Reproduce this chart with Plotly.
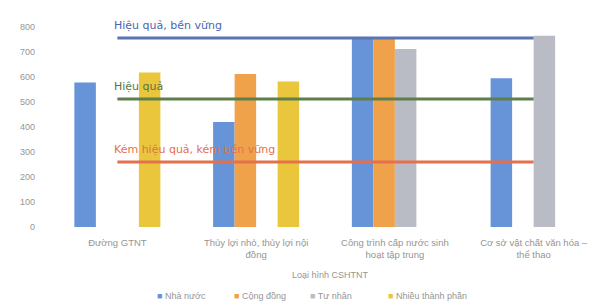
import plotly.graph_objects as go

categories = ["Đường GTNT", "Thủy lợi nhỏ, thủy lợi nội<br>đồng",
              "Công trình cấp nước sinh<br>hoạt tập trung", "Cơ sở vật chất văn hóa –<br>thể thao"]
series_names = ["Nhà nước", "Cộng đồng", "Tư nhân", "Nhiều thành phần"]
nha_nuoc = [578, 420, 760, 595]
cong_dong = [None, 612, 752, None]
tu_nhan = [None, None, 712, 765]
nhieu_thanh_phan = [618, 582, None, None]
y_ticks = [0, 100, 200, 300, 400, 500, 600, 700, 800]

level_names = ["Hiệu quả, bền vững", "Hiệu quả", "Kém hiệu quả, kém bền vững"]
level_values = [756, 512, 260]

bar_colors = ["#6793d8", "#f0a24a", "#b9bcc4", "#e9c63c"]
line_colors = ["#5b74b4", "#5e7e4c", "#e4704e"]
text_colors = ["#4a66b0", "#5a7444", "#e4704e"]
legend_x = [155, 232, 308, 386]

# page body adds an 8px offset; work in screen pixels and convert
OFF = 8
W, H = 605 - OFF, 306 - OFF
L, R, T, B = 48 - OFF, 2, 27 - OFF, 79
pw, ph = W - L - R, H - T - B

def px_x(sx):
    return (sx - OFF - L) / pw

def px_y(sy):
    return (H - B - (sy - OFF)) / ph

fig = go.Figure()
for name, vals, col in zip(series_names, [nha_nuoc, cong_dong, tu_nhan, nhieu_thanh_phan], bar_colors):
    fig.add_trace(go.Bar(x=categories, y=vals, name=name, marker_color=col,
                         marker_line_width=0, showlegend=False))

for name, v, col in zip(level_names, level_values, line_colors):
    fig.add_trace(go.Scatter(x=categories, y=[v] * len(categories), mode="lines",
                             line=dict(color=col, width=3), showlegend=False, name=name))

for name, v, col in zip(level_names, level_values, text_colors):
    fig.add_annotation(x=-0.04, y=v, xref="x", yref="y", text=name, showarrow=False,
                       xanchor="left", yanchor="bottom", yshift=4,
                       font=dict(family="DejaVu Sans", size=11, color=col))

fig.add_annotation(x=px_x(330), y=px_y(275), xref="paper", yref="paper", text="Loại hình CSHTNT",
                   showarrow=False, xanchor="center", yanchor="middle",
                   font=dict(family="Liberation Sans", size=9, color="#959595"))

for name, col, sx in zip(series_names, bar_colors, legend_x):
    fig.add_annotation(x=px_x(sx), y=px_y(296), xref="paper", yref="paper",
                       text=f"<span style='color:{col}'>■</span> {name}",
                       showarrow=False, xanchor="left", yanchor="middle",
                       font=dict(family="Liberation Sans", size=9, color="#959595"))

fig.update_layout(
    width=W, height=H,
    margin=dict(l=L, r=R, t=T, b=B),
    paper_bgcolor="white", plot_bgcolor="white",
    barmode="group", bargap=0.38, bargroupgap=0,
    font=dict(family="Liberation Sans", size=9, color="#959595"),
    showlegend=False,
    xaxis=dict(showgrid=False, showline=False, ticks="", automargin=False,
               tickfont=dict(size=9.5, color="#959595"), ticklabelstandoff=8),
    yaxis=dict(range=[0, 800], tickvals=y_ticks, showgrid=False, showline=False,
               zeroline=False, automargin=False,
               tickfont=dict(size=9, color="#959595"), ticklabelstandoff=12),
)

fig.write_html("out.html")
